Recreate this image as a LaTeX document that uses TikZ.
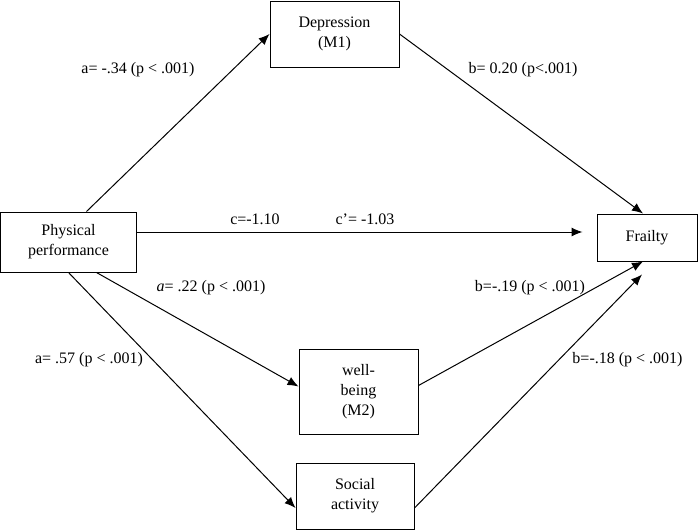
\documentclass[tikz,border=0pt]{standalone}
\usepackage{fontspec}
\setmainfont{Liberation Serif}
\usetikzlibrary{arrows.meta}

\begin{document}
\begin{tikzpicture}[
		x=1pt, y=-1pt,
		>={Latex[length=11pt,width=9pt]},
		varbox/.style={draw=black, line width=1pt, align=center, inner sep=2pt, font=\fontsize{16}{20}\selectfont},
		effect/.style={->, line width=1pt},
		coef/.style={font=\fontsize{16}{20}\selectfont, inner sep=0pt}
	]
		\useasboundingbox (0,0) rectangle (698,530);
		% variables
		\node[varbox, minimum width=136pt, minimum height=60pt] (perf) at (68.5,242) {Physical\\performance};
		\node[varbox, minimum width=129pt, minimum height=66pt] (dep) at (334.5,34) {Depression\\(M1)};
		\node[varbox, minimum width=100pt, minimum height=47pt] (frail) at (647,237.5) {Frailty};
		\node[varbox, minimum width=119pt, minimum height=85pt] (wb) at (358.5,391.5) {well-\\being\\(M2)};
		\node[varbox, minimum width=118pt, minimum height=66pt] (soc) at (355,496) {Social\\activity};
		% paths
		\draw[effect] ([xshift=18pt]perf.north) -- (dep.west);
		\draw[effect] (dep.east) -- ([xshift=-4pt]frail.north);
		\coordinate (cstart) at ([yshift=10pt]perf.east);
		\draw[effect, shorten >=14pt] (cstart) -- (cstart -| frail.west);
		\draw[effect] ([xshift=28pt]perf.south) -- ([yshift=5pt]wb.west);
		\draw[effect] (perf.south) -- ([yshift=-12pt]soc.west);
		\draw[effect] ([yshift=6pt]wb.east) -- ([xshift=-4pt]frail.south);
		\draw[effect] ([yshift=-12pt]soc.east) -- ([xshift=-5pt,yshift=-13pt]frail.south);
		% coefficients
		\node[coef] (adep) at (138,70) {a= -.34 (p < .001)};
		\node[coef] (bdep) at (523,70) {b= 0.20 (p<.001)};
		\node[coef] (ctot) at (255,219) {c=-1.10};
		\node[coef] (cdir) at (365,219) {c’= -1.03};
		\node[coef] (awb) at (211,288) {\textit{a}= .22 (p < .001)};
		\node[coef] (asoc) at (89,360) {a= .57 (p < .001)};
		\node[coef] (bwb) at (530,288) {b=-.19 (p < .001)};
		\node[coef] (bsoc) at (627.5,360) {b=-.18 (p < .001)};
	\end{tikzpicture}
\end{document}
